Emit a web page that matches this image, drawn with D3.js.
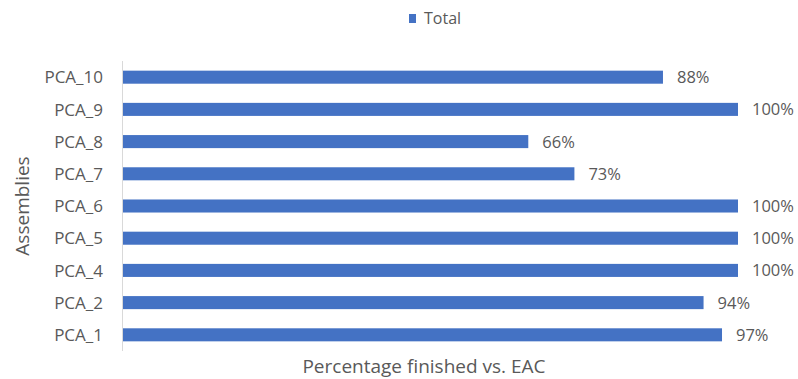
<!DOCTYPE html>
<html>
<head>
<meta charset="utf-8">
<script src="https://cdn.jsdelivr.net/npm/d3@7"></script>
<style>
  body { margin: 0; background: #fff; }
  svg text { font-family: "Open Sans", "Noto Sans", sans-serif; fill: #595959; }
</style>
</head>
<body>
<svg id="chart" width="798" height="379"></svg>
<script>
// categories top to bottom, as shown
let assemblies = ["PCA_10", "PCA_9", "PCA_8", "PCA_7", "PCA_6", "PCA_5", "PCA_4", "PCA_2", "PCA_1"];
let totals = [0.878, 1.0, 0.659, 0.734, 1.0, 1.0, 1.0, 0.944, 0.974];
let seriesName = "Total";

let rows = assemblies.map((a, i) => ({name: a, value: totals[i]}));

let svg = d3.select("#chart");
let plotLeft = 123, plotRight = 738, plotTop = 61, plotBottom = 351;

let x = d3.scaleLinear().domain([0, 1]).range([plotLeft, plotRight]);
let y = d3.scaleBand().domain(assemblies).range([plotTop, plotBottom]).paddingInner(0.595).paddingOuter(0.3);

// axis line
svg.append("line")
  .attr("x1", plotLeft - 0.5).attr("x2", plotLeft - 0.5)
  .attr("y1", plotTop).attr("y2", plotBottom)
  .attr("stroke", "#d9d9d9").attr("stroke-width", 1);

svg.selectAll("rect.bar")
  .data(rows)
  .enter()
  .append("rect")
  .attr("class", "bar")
  .attr("x", x(0))
  .attr("y", d => y(d.name))
  .attr("width", d => x(d.value) - x(0))
  .attr("height", y.bandwidth())
  .attr("fill", "#4472c4");

// value labels
svg.selectAll("text.val")
  .data(rows)
  .enter()
  .append("text")
  .attr("class", "val")
  .attr("x", d => x(d.value) + 14)
  .attr("y", d => y(d.name) + y.bandwidth() / 2)
  .attr("dy", "0.36em")
  .style("font-size", "16.5px")
  .text(d => d3.format(".0%")(d.value));

// category labels
svg.selectAll("text.cat")
  .data(rows)
  .enter()
  .append("text")
  .attr("class", "cat")
  .attr("x", 103)
  .attr("y", d => y(d.name) + y.bandwidth() / 2)
  .attr("dy", "0.36em")
  .attr("text-anchor", "end")
  .style("font-size", "17px")
  .text(d => d.name);

// axis titles
svg.append("text")
  .attr("x", 424).attr("y", 373)
  .attr("text-anchor", "middle")
  .style("font-size", "19px")
  .text("Percentage finished vs. EAC");

svg.append("text")
  .attr("transform", "translate(29,206) rotate(-90)")
  .attr("text-anchor", "middle")
  .style("font-size", "19px")
  .text("Assemblies");

// legend
let legend = svg.append("g").attr("transform", "translate(409,14)");
legend.append("rect").attr("width", 7).attr("height", 9).attr("fill", "#4472c4");
legend.append("text").attr("x", 15).attr("y", 4.5).attr("dy", "0.36em")
  .style("font-size", "16px").text(seriesName);
</script>
</body>
</html>
